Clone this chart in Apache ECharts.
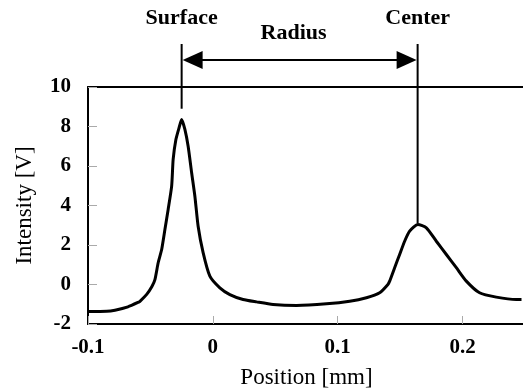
<!DOCTYPE html>
<html>
<head>
<meta charset="utf-8">
<script src="https://cdn.jsdelivr.net/npm/echarts@6/dist/echarts.min.js"></script>
<style>
  html, body { margin: 0; padding: 0; background: #fff; }
  #chart { width: 523px; height: 389px; }
</style>
</head>
<body>
<div id="chart"></div>
<script>
// positions (mm) and intensity (V)
const positions = [
  -0.1, -0.085, -0.0784, -0.068, -0.06, -0.0584, -0.053, -0.0488, -0.0464, -0.0438,
  -0.041, -0.0384, -0.0358, -0.033, -0.0318, -0.0296, -0.027, -0.025, -0.0224, -0.0198,
  -0.017, -0.0144, -0.0118, -0.0078, -0.0024, 0.0056, 0.0136, 0.0242, 0.035, 0.0482,
  0.067, 0.091, 0.1096, 0.123, 0.1336, 0.1402, 0.1416, 0.1456, 0.1496, 0.1536,
  0.1576, 0.1642, 0.171, 0.179, 0.187, 0.195, 0.203, 0.2136, 0.227, 0.243, 0.2472
];
const intensity = [
  -1.37, -1.36, -1.3, -1.13, -0.91, -0.85, -0.5, -0.1, 0.25, 1.1,
  1.77, 2.78, 3.8, 4.98, 6.33, 7.34, 7.95, 8.35, 7.85, 7.0,
  5.66, 4.47, 2.95, 1.61, 0.42, -0.17, -0.51, -0.76, -0.88, -1.01,
  -1.06, -0.98, -0.85, -0.67, -0.42, 0.0, 0.17, 0.85, 1.52, 2.19,
  2.7, 3.04, 2.87, 2.19, 1.52, 0.85, 0.17, -0.42, -0.64, -0.76, -0.76
];
const xTicks = [-0.1, 0, 0.1, 0.2];
const yTicks = [-2, 0, 2, 4, 6, 8, 10];
const surfaceX = -0.025;
const centerX = 0.164;
const centerPeak = 3.1;
const surfaceLineEnd = 8.9;

const font = "'Liberation Serif', 'Times New Roman', serif";
const chart = echarts.init(document.getElementById("chart"));

chart.setOption({
  animation: false,
  grid: { left: 88, right: -2, top: 87, bottom: 65, outerBoundsMode: "none", containLabel: false },
  xAxis: [
    {
      type: "value",
      min: -0.1,
      max: 0.25,
      interval: 0.1,
      name: "Position [mm]",
      nameLocation: "middle",
      nameGap: 42,
      nameTextStyle: { fontFamily: font, fontSize: 23, color: "#000" },
      axisLine: { onZero: false, lineStyle: { color: "#000", width: 2 } },
      axisTick: { inside: true, length: 8, lineStyle: { color: "#aaa" } },
      axisLabel: {
        margin: 13,
        fontFamily: font,
        fontSize: 21,
        fontWeight: "bold",
        color: "#000",
        showMaxLabel: false,
        formatter: (v) => (xTicks.some((t) => Math.abs(t - v) < 1e-9) ? String(Math.round(v * 10) / 10) : ""),
      },
      splitLine: { show: false },
    },
    {
      type: "value",
      position: "top",
      min: -0.1,
      max: 0.25,
      axisLine: { show: true, onZero: false, lineStyle: { color: "#000", width: 2 } },
      axisTick: { show: false },
      axisLabel: { show: false },
      splitLine: { show: false },
    },
  ],
  yAxis: {
    type: "value",
    min: -2,
    max: 10,
    interval: 2,
    name: "Intensity [V]",
    nameLocation: "middle",
    nameGap: 52,
    nameTextStyle: { fontFamily: font, fontSize: 23, color: "#000" },
    axisLine: { show: true, onZero: false, lineStyle: { color: "#000", width: 2 } },
    axisTick: { inside: true, length: 9, lineStyle: { color: "#aaa" } },
    axisLabel: {
      margin: 17,
      fontFamily: font,
      fontSize: 21,
      fontWeight: "bold",
      color: "#000",
      formatter: (v) => (yTicks.includes(v) ? String(v) : ""),
    },
    splitLine: { show: false },
  },
  series: [
    {
      type: "line",
      data: positions.map((p, i) => [p, intensity[i]]),
      showSymbol: false,
      smooth: 0.2,
      lineStyle: { color: "#000", width: 3 },
      clip: true,
    },
  ],
});

// annotations positioned through the axes
function drawAnnotations() {
  const top = 87;
  const sx = chart.convertToPixel({ xAxisIndex: 0 }, surfaceX);
  const cx = chart.convertToPixel({ xAxisIndex: 0 }, centerX);
  const sEnd = chart.convertToPixel({ yAxisIndex: 0 }, surfaceLineEnd);
  const cEnd = chart.convertToPixel({ yAxisIndex: 0 }, centerPeak);
  const lineTop = top - 43;
  const ay = top - 27;
  const head = 20;
  const half = 9;
  const textStyle = { fontFamily: font, fontSize: 22, fontWeight: "bold", fill: "#000", align: "center", verticalAlign: "middle" };
  chart.setOption({
    graphic: [
      { type: "line", shape: { x1: sx, y1: lineTop, x2: sx, y2: sEnd }, style: { stroke: "#000", lineWidth: 2 } },
      { type: "line", shape: { x1: cx, y1: lineTop, x2: cx, y2: cEnd }, style: { stroke: "#000", lineWidth: 2 } },
      { type: "line", shape: { x1: sx + head, y1: ay, x2: cx - head, y2: ay }, style: { stroke: "#000", lineWidth: 2 } },
      { type: "polygon", shape: { points: [[sx + 1, ay], [sx + 1 + head, ay - half], [sx + 1 + head, ay + half]] }, style: { fill: "#000" } },
      { type: "polygon", shape: { points: [[cx - 1, ay], [cx - 1 - head, ay - half], [cx - 1 - head, ay + half]] }, style: { fill: "#000" } },
      { type: "text", x: sx, y: 18, style: Object.assign({ text: "Surface" }, textStyle) },
      { type: "text", x: cx, y: 18, style: Object.assign({ text: "Center" }, textStyle) },
      { type: "text", x: (sx + cx) / 2 - 6, y: 33, style: Object.assign({ text: "Radius" }, textStyle) },
    ],
  });
}
drawAnnotations();
</script>
</body>
</html>
